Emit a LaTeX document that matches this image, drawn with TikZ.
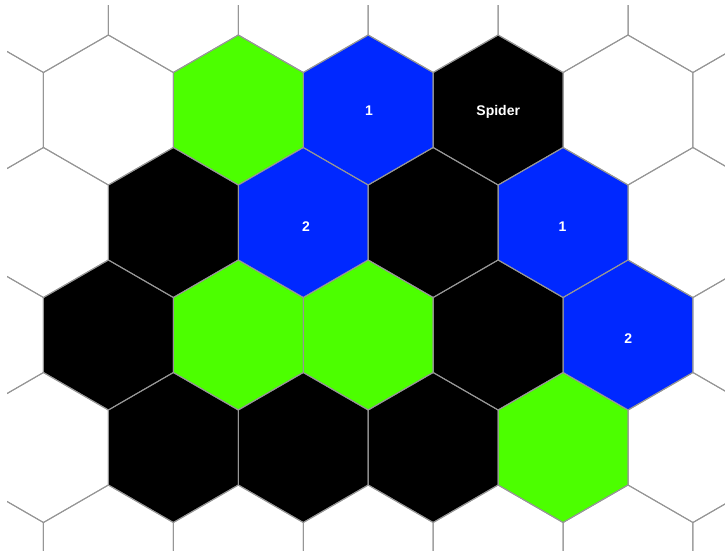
\documentclass[tikz,border=0pt]{standalone}
\usepackage{fontspec}
\setmainfont{Liberation Sans}
\definecolor{hexgreen}{RGB}{76,255,0}
\definecolor{hexblue}{RGB}{0,40,255}
\definecolor{gridgray}{RGB}{150,150,150}
\newcommand{\hexshape}[2]{(#1,#2+75) -- (#1+64.95,#2+37.5) -- (#1+64.95,#2-37.5) -- (#1,#2-75) -- (#1-64.95,#2-37.5) -- (#1-64.95,#2+37.5) -- cycle}
\tikzset{
  gridline/.style={draw=gridgray, line width=1pt, line join=round},
  celltext/.style={text=white, font=\fontsize{14}{14}\selectfont\bfseries, inner sep=0pt}
}
\begin{document}
\begin{tikzpicture}[x=1pt,y=-1pt]
\useasboundingbox[fill=white] (0,0) rectangle (725,550);
\begin{scope}
\clip (7,5) rectangle (725,550);
% row 0 (y=110)
\fill[hexgreen] \hexshape{238.3}{110};
\fill[hexblue] \hexshape{368.25}{110};
\fill[black] \hexshape{498.2}{110};
% row 1 (y=222.5)
\fill[black] \hexshape{173.35}{222.5};
\fill[hexblue] \hexshape{303.3}{222.5};
\fill[black] \hexshape{433.25}{222.5};
\fill[hexblue] \hexshape{563.2}{222.5};
% row 2 (y=335)
\fill[black] \hexshape{108.4}{335};
\fill[hexgreen] \hexshape{238.3}{335};
\fill[hexgreen] \hexshape{368.25}{335};
\fill[black] \hexshape{498.2}{335};
\fill[hexblue] \hexshape{628.15}{335};
% row 3 (y=447.5)
\fill[black] \hexshape{173.35}{447.5};
\fill[black] \hexshape{303.3}{447.5};
\fill[black] \hexshape{433.25}{447.5};
\fill[hexgreen] \hexshape{563.2}{447.5};
% grid
\foreach \r in {-1,...,4}{
  \pgfmathsetmacro{\yc}{110+112.5*\r}
  \pgfmathsetmacro{\xo}{isodd(\r) ? 173.35 : 238.3}
  \foreach \k in {-3,...,5}{
    \pgfmathsetmacro{\xc}{\xo+129.9*\k}
    \draw[gridline] \hexshape{\xc}{\yc};
  }
}
\end{scope}
\node[celltext] (n1a) at (369,110.5) {1};
\node[celltext] (spider) at (498.2,111.5) {Spider};
\node[celltext] (n2a) at (306,227) {2};
\node[celltext] (n1b) at (562.5,227) {1};
\node[celltext] (n2b) at (628.3,339) {2};
\end{tikzpicture}
\end{document}
